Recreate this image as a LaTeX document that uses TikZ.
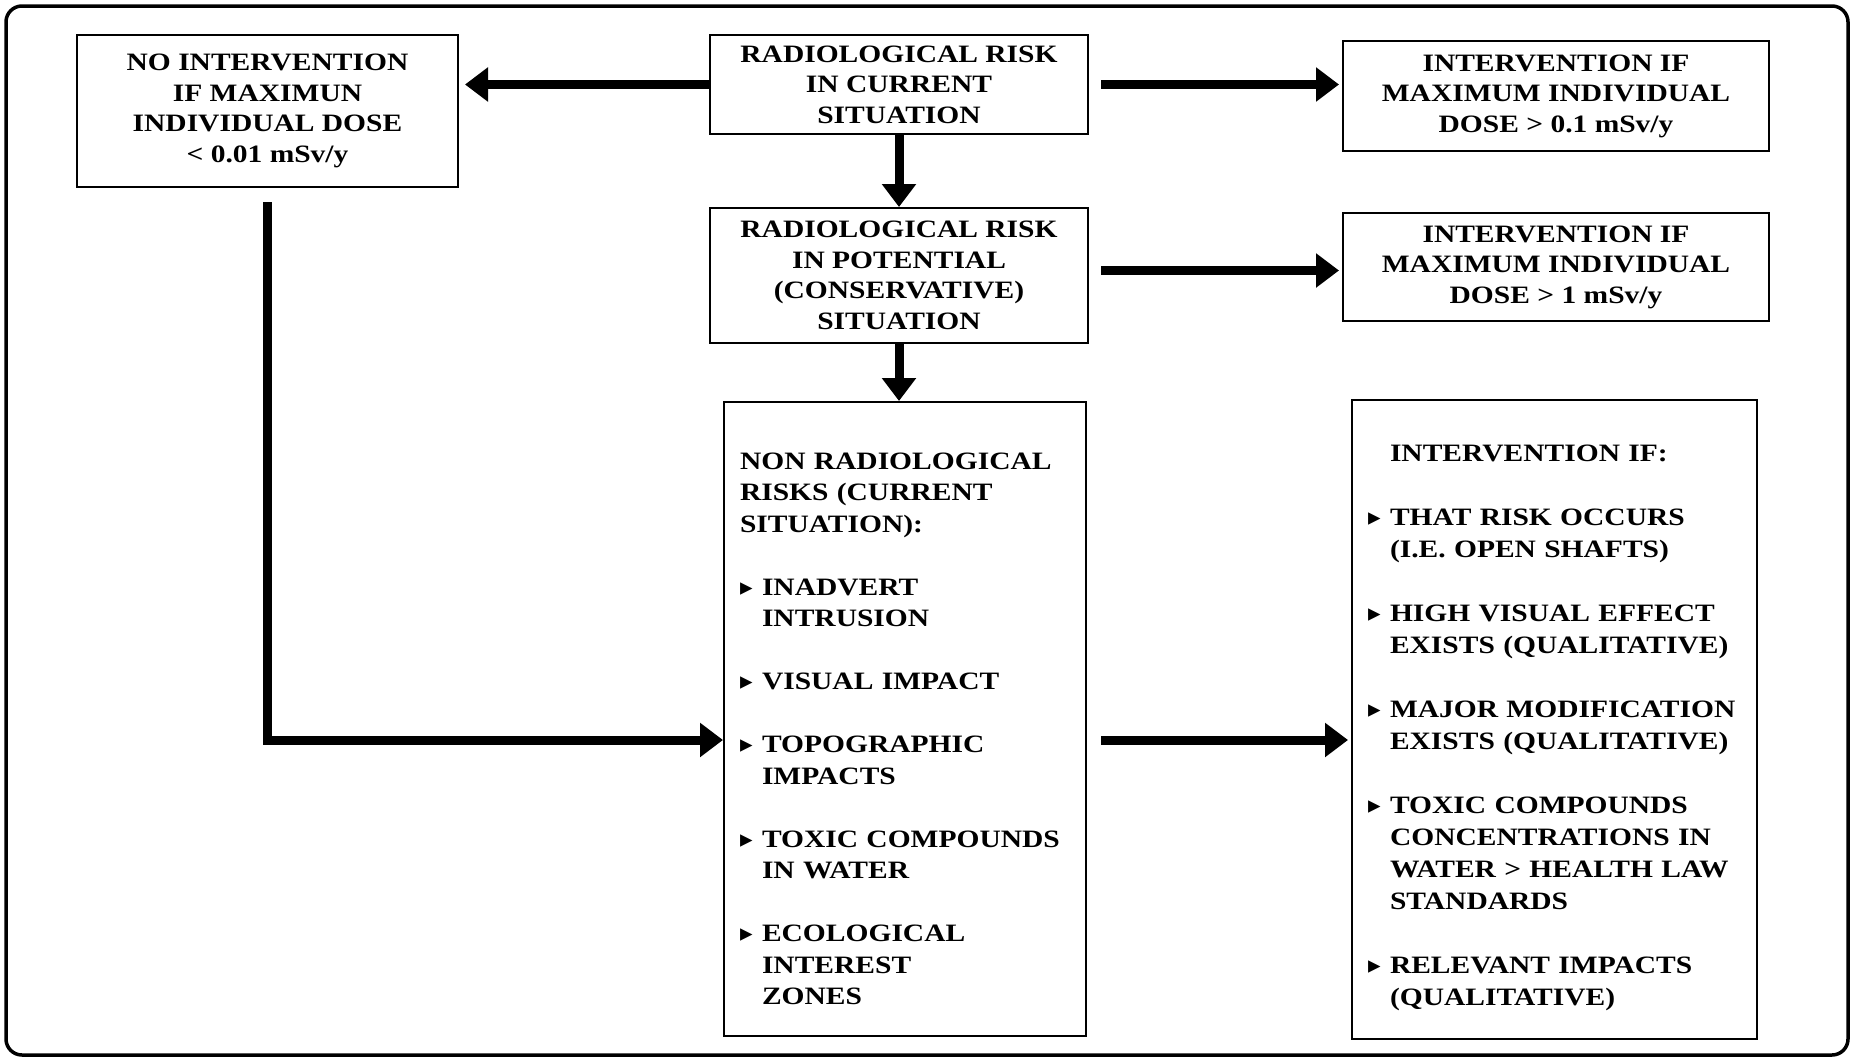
\documentclass[tikz,border=0pt]{standalone}
\usepackage{fontspec}
\setmainfont{Liberation Serif}[FakeStretch=1.18]
\newfontfamily\symfont{DejaVu Sans}
\usetikzlibrary{arrows.meta}
\newcommand\bul{\makebox[22pt][l]{\symfont\fontsize{25}{25}\selectfont ▸}}
\newcommand\ind{\hspace*{22pt}}

\tikzset{
  frame/.style={line width=3.5pt, rounded corners=16pt},
  box/.style={draw, line width=2pt, inner sep=0pt, align=center,
    font={\bfseries\fontsize{25}{30.5}\selectfont}},
  listbox/.style={box, align=left, inner xsep=16pt,
    font={\bfseries\fontsize{25}{31.5}\selectfont\hyphenpenalty=10000}},
  bigarrow/.style={line width=9pt, -{Triangle[length=23pt,width=33pt]}},
}

\begin{document}
\begin{tikzpicture}[x=1pt,y=-1pt]
\useasboundingbox (0,0) rectangle (1855,1060);
\draw[frame] (6,6) rectangle (1848,1055);

% radiological branch
\node[box, minimum width=381pt, minimum height=152pt] (nointerv) at (267.5,111)
  {NO INTERVENTION\\IF MAXIMUN\\INDIVIDUAL DOSE\\< 0.01 mSv/y};
\node[box, minimum width=378pt, minimum height=99pt] (current) at (899,84.5)
  {RADIOLOGICAL RISK\\IN CURRENT\\SITUATION};
\node[box, minimum width=426pt, minimum height=110pt] (interv1) at (1556,96)
  {INTERVENTION IF\\MAXIMUM INDIVIDUAL\\DOSE > 0.1 mSv/y};
\node[box, minimum width=378pt, minimum height=135pt] (potential) at (899,275.5)
  {RADIOLOGICAL RISK\\IN POTENTIAL\\(CONSERVATIVE)\\SITUATION};
\node[box, minimum width=426pt, minimum height=108pt] (interv2) at (1556,267)
  {INTERVENTION IF\\MAXIMUM INDIVIDUAL\\DOSE > 1 mSv/y};

% non radiological branch
\node[listbox, text width=330pt, minimum height=634pt] (nonrad) at (905,719)
  {\rule{0pt}{36pt}NON RADIOLOGICAL\\RISKS (CURRENT\\SITUATION):\\[31.5pt]
   \bul INADVERT\\\ind INTRUSION\\[31.5pt]
   \bul VISUAL IMPACT\\[31.5pt]
   \bul TOPOGRAPHIC\\\ind IMPACTS\\[31.5pt]
   \bul TOXIC COMPOUNDS\\\ind IN WATER\\[31.5pt]
   \bul ECOLOGICAL\\\ind INTEREST\\\ind ZONES};
\node[listbox, text width=373pt, minimum height=639pt,
  font={\bfseries\fontsize{25}{32}\selectfont\hyphenpenalty=10000}] (interv3) at (1554.5,719.5)
  {\rule{0pt}{33pt}\ind INTERVENTION IF:\\[32pt]
   \bul THAT RISK OCCURS\\\ind (I.E. OPEN SHAFTS)\\[32pt]
   \bul HIGH VISUAL EFFECT\\\ind EXISTS (QUALITATIVE)\\[32pt]
   \bul MAJOR MODIFICATION\\\ind EXISTS (QUALITATIVE)\\[32pt]
   \bul TOXIC COMPOUNDS\\\ind CONCENTRATIONS IN\\\ind WATER > HEALTH LAW\\\ind STANDARDS\\[32pt]
   \bul RELEVANT IMPACTS\\\ind (QUALITATIVE)};

% arrows
\draw[bigarrow] (current.west) -- ([xshift=6pt]current.west -| nointerv.east);
\draw[bigarrow] ([xshift=12pt]current.east) -- ([xshift=-3pt]current.east -| interv1.west);
\draw[bigarrow] (current.south) -- (potential.north);
\draw[bigarrow] ([xshift=12pt,yshift=5pt]potential.east) -- ([xshift=-3pt,yshift=5pt]potential.east -| interv2.west);
\draw[bigarrow] (potential.south) -- (potential.south |- nonrad.north);
\draw[bigarrow] ([yshift=-14pt]nointerv.south) |- ([yshift=-21pt]nonrad.west);
\draw[bigarrow] ([xshift=14pt,yshift=-21pt]nonrad.east) -- ([xshift=-3pt,yshift=-21pt]nonrad.east -| interv3.west);
\end{tikzpicture}
\end{document}
